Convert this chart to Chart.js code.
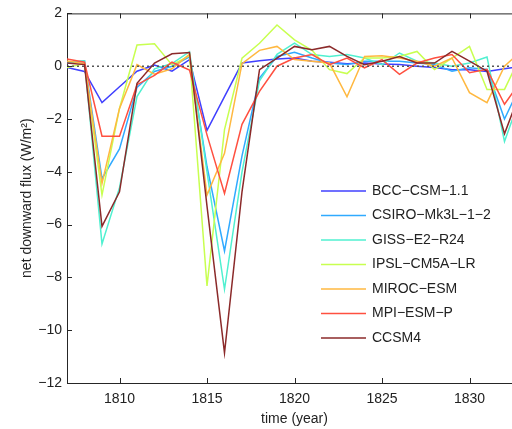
<!DOCTYPE html>
<html>
<head>
<meta charset="utf-8">
<script src="https://cdn.jsdelivr.net/npm/chart.js@4"></script>
<style>
  html, body { margin: 0; padding: 0; background: #fff; overflow: hidden; }
  #wrap { width: 522px; height: 429px; }
</style>
</head>
<body>
<div id="wrap"><canvas id="c" width="522" height="429"></canvas></div>
<script>
const years = [1807,1808,1809,1810,1811,1812,1813,1814,1815,1816,1817,1818,1819,1820,1821,1822,1823,1824,1825,1826,1827,1828,1829,1830,1831,1832,1833];
const xTicks = [1810,1815,1820,1825,1830];
const yTicks = [-12,-10,-8,-6,-4,-2,0,2];
const modelNames = ['BCC−CSM−1.1','CSIRO−Mk3L−1−2','GISS−E2−R24','IPSL−CM5A−LR','MIROC−ESM','MPI−ESM−P','CCSM4'];

const bcc   = [-0.05,-0.2,-1.38,-0.78,-0.19,0.04,-0.19,0.25,-2.43,-1.15,0.12,0.21,0.27,0.31,0.19,0.15,0.09,0.12,0.08,0.06,0.0,-0.05,-0.13,-0.13,-0.2,-0.1,0.0];
const csiro = [0.1,0.2,-4.26,-3.13,-0.8,-0.2,0.0,0.35,-3.8,-7.0,-3.4,-0.45,0.37,0.53,0.31,0.12,0.06,0.19,0.19,0.19,0.12,0.06,-0.19,-0.06,-0.12,-2.0,-0.6];
const giss  = [0.15,0.2,-6.73,-4.6,-1.15,-0.1,0.1,0.55,-4.0,-8.45,-4.0,-0.55,0.45,0.87,0.44,0.37,0.44,0.31,0.06,0.5,0.19,0.12,0.0,0.12,0.35,-2.85,-1.0];
const ipsl  = [-0.05,0.1,-4.88,-1.6,0.8,0.85,0.05,0.4,-8.32,-2.4,0.3,0.87,1.56,1.0,0.6,-0.13,-0.28,0.31,0.31,0.37,0.56,-0.13,0.31,0.75,-0.88,-0.88,0.5];
const miroc = [0.2,0.1,-4.44,-1.6,0.06,-0.3,-0.1,0.45,-4.88,-3.3,0.1,0.6,0.75,0.25,0.19,0.12,-1.16,0.37,0.4,0.31,0.19,0.0,0.31,-1.0,-1.38,0.0,0.6];
const mpi   = [0.27,0.15,-2.65,-2.65,-0.7,-0.35,0.15,-0.15,-2.6,-4.82,-2.2,-0.95,0.0,0.31,0.44,0.06,0.31,-0.06,0.25,-0.31,0.12,0.31,0.44,-0.25,-0.12,-1.44,-0.5];
const ccsm4 = [0.12,0.06,-6.07,-4.76,-0.65,0.12,0.47,0.52,-5.3,-10.86,-4.76,-0.13,0.31,0.75,0.62,0.75,0.37,0.06,0.19,0.37,0.12,0.12,0.56,0.19,-0.19,-2.56,-0.8];
const zeroLine = years.map(() => 0);

const seriesValues = [bcc, csiro, giss, ipsl, miroc, mpi, ccsm4];
const colors = ['#4040ff','#30aaff','#50f0d0','#c8ff50','#ffb840','#ff5040','#8b2a2a'];

const datasets = seriesValues.map((vals, i) => ({
  label: modelNames[i],
  data: years.map((yr, j) => ({x: yr, y: vals[j]})),
  borderColor: colors[i],
  backgroundColor: colors[i],
  borderWidth: 1.5,
  pointRadius: 0,
  tension: 0,
  order: 10 - i
}));
datasets.push({
  label: 'zero',
  data: years.map((yr, j) => ({x: yr, y: zeroLine[j]})),
  borderColor: '#555',
  borderWidth: 1.5,
  borderDash: [2, 3],
  pointRadius: 0,
  order: 0
});

const FONT = '"Liberation Sans", Arial, Helvetica, sans-serif';
const fmt = v => String(v).replace('-', '\u2212');

const decor = {
  id: 'decor',
  afterDraw(chart) {
    const {ctx, chartArea: a, scales: {x, y}} = chart;
    ctx.save();
    ctx.strokeStyle = '#262626';
    ctx.lineWidth = 1;
    // top border
    ctx.beginPath();
    ctx.moveTo(a.left, a.top + 0.5);
    ctx.lineTo(a.right, a.top + 0.5);
    ctx.stroke();
    // inside ticks
    ctx.beginPath();
    xTicks.forEach(t => {
      const px = Math.round(x.getPixelForValue(t)) + 0.5;
      ctx.moveTo(px, a.bottom); ctx.lineTo(px, a.bottom - 5);
      ctx.moveTo(px, a.top); ctx.lineTo(px, a.top + 5);
    });
    yTicks.forEach(t => {
      const py = Math.round(y.getPixelForValue(t)) + 0.5;
      ctx.moveTo(a.left, py); ctx.lineTo(a.left + 5, py);
    });
    ctx.stroke();
    // legend
    const lx0 = 321, lx1 = 366, tx = 372, ty0 = 191, dy = 24.5;
    ctx.font = '14px ' + FONT;
    ctx.textBaseline = 'middle';
    ctx.textAlign = 'left';
    modelNames.forEach((n, i) => {
      const yy = ty0 + i * dy;
      ctx.strokeStyle = colors[i];
      ctx.lineWidth = 1.5;
      ctx.beginPath();
      ctx.moveTo(lx0, yy); ctx.lineTo(lx1, yy);
      ctx.stroke();
      ctx.fillStyle = '#222';
      ctx.fillText(n, tx, yy);
    });
    ctx.restore();
  }
};

new Chart(document.getElementById('c'), {
  type: 'line',
  data: { datasets },
  options: {
    responsive: false,
    animation: false,
    layout: { padding: { top: 10, right: 0, bottom: 0, left: 0 } },
    plugins: { legend: { display: false }, tooltip: { enabled: false } },
    scales: {
      x: {
        type: 'linear',
        min: 1807, max: 1833,
        afterBuildTicks: s => { s.ticks = xTicks.map(v => ({value: v})); },
        afterFit: s => { s.height = 46; },
        grid: { display: false, drawTicks: false },
        border: { display: true, color: '#262626', width: 1 },
        ticks: { padding: 8, color: '#222', font: { size: 14, family: FONT }, maxRotation: 0, callback: v => fmt(v) },
        title: { display: true, text: 'time (year)', color: '#222', font: { size: 14, family: FONT }, padding: { top: 0, bottom: 1 } }
      },
      y: {
        type: 'linear',
        min: -12, max: 2,
        afterBuildTicks: s => { s.ticks = yTicks.map(v => ({value: v})); },
        afterFit: s => { s.width = 67; },
        grid: { display: false, drawTicks: false },
        border: { display: true, color: '#262626', width: 1 },
        ticks: { padding: 5, color: '#222', font: { size: 14, family: FONT }, callback: v => fmt(v) },
        title: { display: true, text: 'net downward flux (W/m\u00b2)', color: '#222', font: { size: 14, family: FONT }, padding: { top: 19, bottom: 0 } }
      }
    }
  },
  plugins: [decor]
});
</script>
</body>
</html>
